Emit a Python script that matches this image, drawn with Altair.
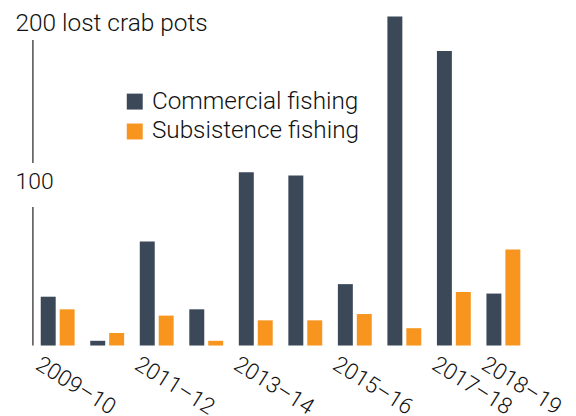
import altair as alt
import pandas as pd

seasons = ["2009–10", "2010–11", "2011–12", "2012–13", "2013–14",
           "2014–15", "2015–16", "2016–17", "2017–18", "2018–19"]
commercial = [31, 3, 66, 23, 110, 108, 39, 209, 187, 33]
subsistence = [23, 8, 19, 3, 16, 16, 20, 11, 34, 61]
series_names = ["Commercial fishing", "Subsistence fishing"]
series_colors = ["#3a4858", "#f7951e"]
shown_seasons = ["2009–10", "2011–12", "2013–14", "2015–16", "2017–18", "2018–19"]
y_ticks = [100, 200]
top_label = "200 lost crab pots"
axis_segments_start = [0, 116]
axis_segments_end = [88, 194]

FONT = "Roboto"

rows = []
for s, c, v in zip(seasons, commercial, subsistence):
    rows.append({"season": s, "series": series_names[0], "value": c})
    rows.append({"season": s, "series": series_names[1], "value": v})
df = pd.DataFrame(rows)

seg_df = pd.DataFrame({"y0": axis_segments_start, "y1": axis_segments_end})

yscale = alt.Scale(domain=[0, 200], nice=False, zero=True)

bars = alt.Chart(df).mark_bar().encode(
    x=alt.X("season:N", sort=seasons,
            scale=alt.Scale(paddingInner=0.316, paddingOuter=0.158),
            axis=alt.Axis(values=shown_seasons, labelAngle=32, labelAlign="left",
                          labelBaseline="top", labelOffset=-14, labelPadding=7,
                          ticks=False, domain=False, title=None, labelFontSize=22.5,
                          labelFont=FONT, labelFontWeight=300, labelColor="#111",
                          labelLimit=400, labelOverlap=False)),
    xOffset=alt.XOffset("series:N", sort=series_names,
                        scale=alt.Scale(paddingInner=0.21, paddingOuter=0)),
    y=alt.Y("value:Q", scale=yscale,
            axis=alt.Axis(values=y_ticks, ticks=False, domain=False, grid=False,
                          title=None, labelAlign="left", labelBaseline="alphabetic",
                          labelPadding=18,
                          labelFontSize={"condition": {"test": "datum.value == 200", "value": 24.5},
                                         "value": 23},
                          labelFont=FONT,
                          labelFontWeight=300, labelColor="#111", labelLimit=400,
                          labelExpr=f"datum.value == 200 ? '{top_label}' : datum.label")),
    color=alt.Color("series:N", sort=series_names,
                    scale=alt.Scale(domain=series_names, range=series_colors),
                    legend=alt.Legend(orient="none", legendX=90, legendY=59, title=None,
                                      symbolType="square", symbolSize=256,
                                      symbolStrokeWidth=0, labelFontSize=24.4,
                                      labelFont=FONT, labelFontWeight=300,
                                      labelColor="#111", labelOffset=5,
                                      labelLimit=400, rowPadding=5, padding=0)),
)

axis_line = alt.Chart(seg_df).mark_rule(color="#333", strokeWidth=1.3).encode(
    x=alt.value(0),
    y=alt.Y("y0:Q", scale=yscale),
    y2="y1:Q",
)

chart = alt.layer(bars, axis_line).properties(
    width=497, height=316,
    padding={"left": 25, "top": 22, "right": 40, "bottom": 70},
    autosize=alt.AutoSizeParams(type="none"),
).configure_view(stroke=None)

chart.save("out.html", embed_options={"renderer": "svg", "actions": False})
